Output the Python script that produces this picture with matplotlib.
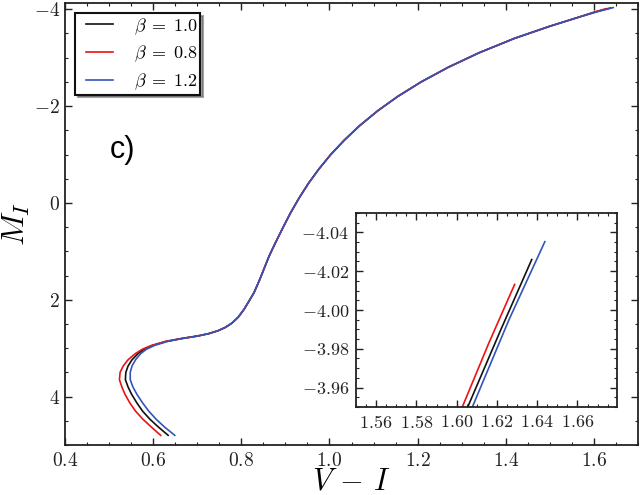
import matplotlib
matplotlib.use('Agg')
import matplotlib.pyplot as plt
from matplotlib.lines import Line2D
from matplotlib.legend_handler import HandlerLine2D
from matplotlib.ticker import MultipleLocator, AutoMinorLocator

plt.rcParams['mathtext.fontset'] = 'cm'
plt.rcParams['font.family'] = 'serif'
plt.rcParams['font.serif'] = ['cmr10']
plt.rcParams['axes.formatter.use_mathtext'] = True
plt.rcParams['axes.unicode_minus'] = True

# lower main sequence, one branch per beta (M_I shared)
mi_low = [4.80, 4.63, 4.47, 4.30, 4.13, 3.95, 3.80, 3.65, 3.50, 3.37, 3.24, 3.11, 3.02, 2.94, 2.86, 2.80]
vi_black_low = [0.634, 0.612, 0.593, 0.576, 0.563, 0.551, 0.543, 0.537, 0.538, 0.543, 0.552, 0.566, 0.580, 0.600, 0.630, 0.665]
vi_red_low = [0.617, 0.596, 0.577, 0.560, 0.547, 0.536, 0.529, 0.5235, 0.525, 0.532, 0.543, 0.560, 0.576, 0.597, 0.628, 0.664]
vi_blue_low = [0.649, 0.626, 0.607, 0.590, 0.576, 0.563, 0.554, 0.548, 0.548, 0.552, 0.560, 0.572, 0.585, 0.604, 0.633, 0.667]

# subgiant + giant branch (the three curves overlap here)
mi_up = [2.75, 2.70, 2.64, 2.57, 2.48, 2.36, 2.20, 2.02, 1.85, 1.60, 1.35, 1.10, 0.83, 0.50, 0.20,
         -0.10, -0.40, -0.70, -1.00, -1.30, -1.60, -1.90, -2.20, -2.50, -2.80, -3.10, -3.40, -3.65, -3.85]
vi_up = [0.700, 0.726, 0.747, 0.764, 0.779, 0.793, 0.806, 0.818, 0.829, 0.841, 0.852, 0.863, 0.877, 0.895, 0.912,
         0.931, 0.952, 0.976, 1.003, 1.034, 1.069, 1.109, 1.155, 1.208, 1.269, 1.339, 1.420, 1.500, 1.570]

# tip of the track, where the curves split again (seen in the inset)
mi_black_tip = [-3.95, -3.99, -4.026]
vi_black_tip = [1.6055, 1.622, 1.6373]
mi_red_tip = [-3.95, -3.983, -4.0132]
vi_red_tip = [1.6028, 1.616, 1.6288]
mi_blue_tip = [-3.95, -3.995, -4.0352]
vi_blue_tip = [1.6078, 1.626, 1.6438]

labels = [r'$\beta\;=\;1.0$', r'$\beta\;=\;0.8$', r'$\beta\;=\;1.2$']
colors = ['#111111', '#ee1111', '#3355bb']

tracks = [
  (vi_black_low + vi_up + vi_black_tip, mi_low + mi_up + mi_black_tip),
  (vi_red_low + vi_up + vi_red_tip, mi_low + mi_up + mi_red_tip),
  (vi_blue_low + vi_up + vi_blue_tip, mi_low + mi_up + mi_blue_tip),
]

def style_axes(ax, size):
  for s in ax.spines.values():
    s.set_linewidth(1.3)
    s.set_color('#222222')
  ax.tick_params(which='both', direction='in', top=True, right=True, labelsize=size,
                 colors='#222222')
  ax.tick_params(which='major', length=5, width=1)
  ax.tick_params(which='minor', length=2.5, width=0.8)

fig = plt.figure(figsize=(6.4, 4.95), dpi=100)
ax = fig.add_axes([65/640, 1-445/495, (638-65)/640, (445-3)/495])

for (vi, mi), c, lab in zip(tracks, colors, labels):
  ax.plot(vi, mi, color=c, lw=1.2, label=lab)

ax.set_xlim(0.4, 1.7)
ax.set_ylim(5, -4.13)
ax.xaxis.set_major_locator(MultipleLocator(0.2))
ax.xaxis.set_minor_locator(MultipleLocator(0.05))
ax.yaxis.set_major_locator(MultipleLocator(2))
ax.yaxis.set_minor_locator(MultipleLocator(0.5))
style_axes(ax, 14)
ax.tick_params(axis='x', pad=5)
ax.set_xlabel(r'$V$ $-$ $I$', fontsize=22, labelpad=-1)
ax.set_ylabel(r'$M_I$', fontsize=23, labelpad=1)

ax.text(0.502, -1.09, 'c)', fontsize=22, family='Liberation Sans', va='center', ha='left')

leg = ax.legend(loc='upper left', fontsize=13, shadow=True, fancybox=False,
                framealpha=1, edgecolor='#111111', borderaxespad=0.57,
                handlelength=1.95, handletextpad=1.15, borderpad=0.15, labelspacing=0.4,
                handler_map={Line2D: HandlerLine2D(xpad=0.47)})
leg.get_frame().set_linewidth(1.5)

ax_in = fig.add_axes([356/640, 1-407/495, (616.7-356)/640, (407-213)/495])
for (vi, mi), c in zip(tracks, colors):
  ax_in.plot(vi, mi, color=c, lw=1.2)
ax_in.set_xlim(1.55, 1.6795)
ax_in.set_ylim(-3.95, -4.05)
ax_in.xaxis.set_major_locator(MultipleLocator(0.02))
ax_in.xaxis.set_minor_locator(AutoMinorLocator(4))
ax_in.yaxis.set_major_locator(MultipleLocator(0.02))
ax_in.yaxis.set_minor_locator(AutoMinorLocator(4))
style_axes(ax_in, 13)
ax_in.tick_params(axis='both', pad=5)

fig.savefig('out.png', dpi=100)
